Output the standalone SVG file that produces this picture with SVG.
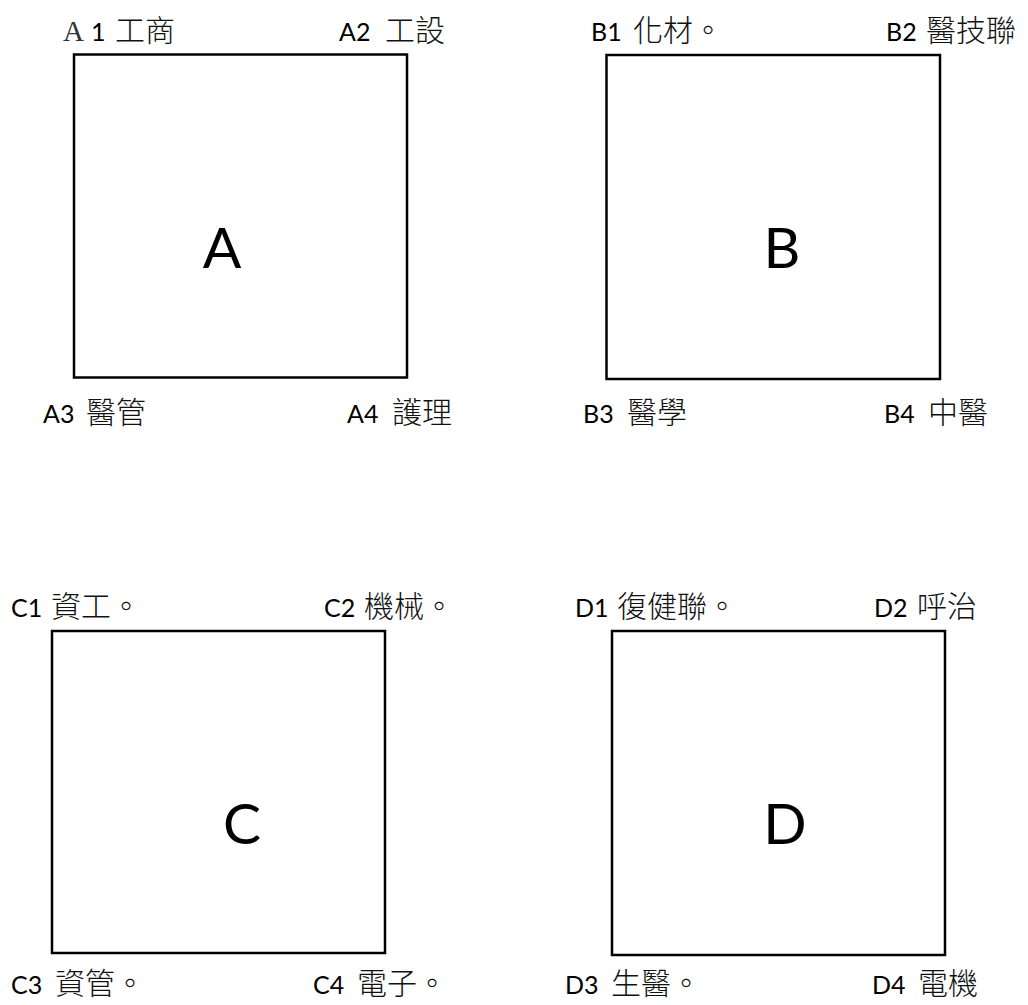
<svg xmlns="http://www.w3.org/2000/svg" width="1028" height="1005" viewBox="0 0 1028 1005">
<style>
.box{fill:#fff;stroke:#000;stroke-width:2.5}
.lat{font-family:Lato,"Liberation Sans",sans-serif;font-size:25px;fill:#000}
.cjk{font-family:"Noto Sans CJK TC","Noto Sans CJK JP",sans-serif;font-size:30px;fill:#111;font-weight:300}
.big{font-family:Lato,"Liberation Sans",sans-serif;font-size:57px;fill:#000;text-anchor:middle}
.ser{font-family:"Liberation Serif",serif;font-size:29px;fill:#333}
</style>
<rect width="1028" height="1005" fill="#fff"/>
<g id="connectors"></g>
<g id="nodeA">
<rect class="box" x="74" y="54.5" width="333" height="323"/>
<text class="big" x="222" y="268">A</text>
<text y="41"><tspan class="ser" x="63">A</tspan><tspan class="lat" x="91">1</tspan><tspan class="cjk" x="115">工商</tspan></text>
<text y="41"><tspan class="lat" x="339">A2</tspan><tspan class="cjk" x="385">工設</tspan></text>
<text y="423"><tspan class="lat" x="43">A3</tspan><tspan class="cjk" x="86">醫管</tspan></text>
<text y="423"><tspan class="lat" x="347">A4</tspan><tspan class="cjk" x="392">護理</tspan></text>
</g>
<g id="nodeB">
<rect class="box" x="606.5" y="55" width="333.5" height="324"/>
<text class="big" x="782" y="268">B</text>
<text y="41"><tspan class="lat" x="591">B1</tspan><tspan class="cjk" x="633">化材。</tspan></text>
<text y="41"><tspan class="lat" x="886">B2</tspan><tspan class="cjk" x="926">醫技聯</tspan></text>
<text y="423"><tspan class="lat" x="583">B3</tspan><tspan class="cjk" x="627">醫學</tspan></text>
<text y="423"><tspan class="lat" x="884">B4</tspan><tspan class="cjk" x="928">中醫</tspan></text>
</g>
<g id="nodeC">
<rect class="box" x="52" y="631" width="333" height="322"/>
<text class="big" x="242" y="844">C</text>
<text y="617"><tspan class="lat" x="11">C1</tspan><tspan class="cjk" x="51">資工。</tspan></text>
<text y="617"><tspan class="lat" x="324">C2</tspan><tspan class="cjk" x="364">機械。</tspan></text>
<text y="994"><tspan class="lat" x="11">C3</tspan><tspan class="cjk" x="55">資管。</tspan></text>
<text y="994"><tspan class="lat" x="313">C4</tspan><tspan class="cjk" x="357">電子。</tspan></text>
</g>
<g id="nodeD">
<rect class="box" x="612" y="631" width="333" height="324"/>
<text class="big" x="785" y="844">D</text>
<text y="617"><tspan class="lat" x="575">D1</tspan><tspan class="cjk" x="617">復健聯。</tspan></text>
<text y="617"><tspan class="lat" x="874">D2</tspan><tspan class="cjk" x="917">呼治</tspan></text>
<text y="994"><tspan class="lat" x="565">D3</tspan><tspan class="cjk" x="611">生醫。</tspan></text>
<text y="994"><tspan class="lat" x="872">D4</tspan><tspan class="cjk" x="918">電機</tspan></text>
</g>
</svg>
